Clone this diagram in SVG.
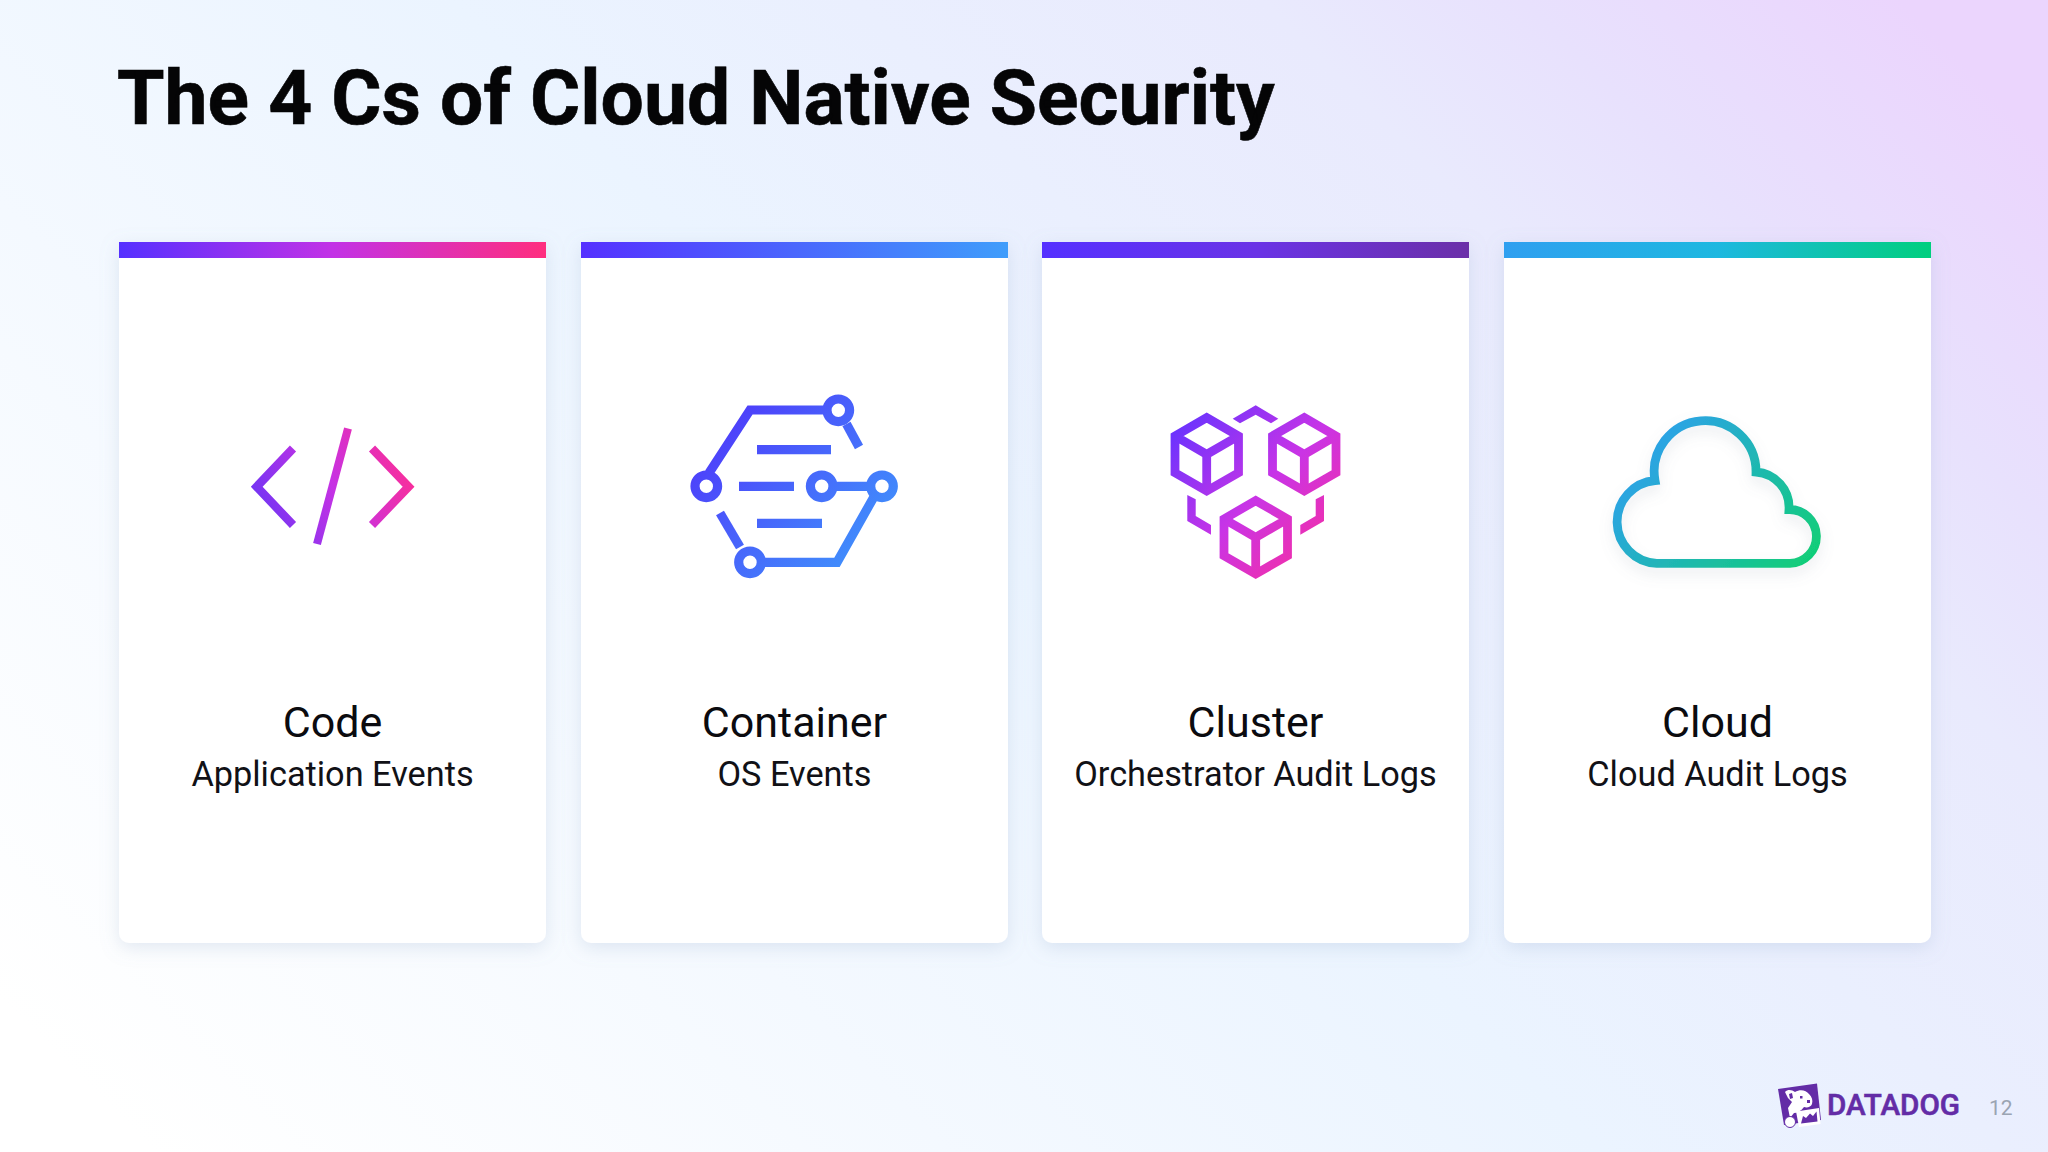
<svg xmlns="http://www.w3.org/2000/svg" width="2048" height="1152" viewBox="0 0 2048 1152">
<defs>
<linearGradient id="bg" gradientUnits="userSpaceOnUse" x1="300" y1="1300" x2="1750" y2="-150"><stop offset="0" stop-color="#ffffff"/><stop offset="0.5" stop-color="#ebf4ff"/><stop offset="0.78" stop-color="#e9eafd"/><stop offset="0.87" stop-color="#e8e1fd"/><stop offset="1" stop-color="#ebd5fd"/></linearGradient>
<linearGradient id="b1"><stop offset="0" stop-color="#5530ff"/><stop offset="0.5" stop-color="#c232e6"/><stop offset="1" stop-color="#ff2e7e"/></linearGradient>
<linearGradient id="b2"><stop offset="0" stop-color="#5530ff"/><stop offset="1" stop-color="#3f9dfb"/></linearGradient>
<linearGradient id="b3"><stop offset="0" stop-color="#5530ff"/><stop offset="0.5" stop-color="#6a33e6"/><stop offset="1" stop-color="#6b30a8"/></linearGradient>
<linearGradient id="b4"><stop offset="0" stop-color="#2f9ff0"/><stop offset="0.5" stop-color="#1db8e0"/><stop offset="1" stop-color="#00cf7e"/></linearGradient>
<linearGradient id="i1" gradientUnits="userSpaceOnUse" x1="255" y1="520" x2="410" y2="450"><stop offset="0" stop-color="#6b35f5"/><stop offset="0.5" stop-color="#c632e4"/><stop offset="1" stop-color="#ff2e92"/></linearGradient>
<linearGradient id="i2" gradientUnits="userSpaceOnUse" x1="700" y1="400" x2="890" y2="570"><stop offset="0" stop-color="#5030fa"/><stop offset="1" stop-color="#3e9cfc"/></linearGradient>
<linearGradient id="i3" gradientUnits="userSpaceOnUse" x1="1175" y1="420" x2="1335" y2="575"><stop offset="0" stop-color="#6633ff"/><stop offset="0.5" stop-color="#c934e6"/><stop offset="1" stop-color="#ff2e96"/></linearGradient>
<linearGradient id="i4" gradientUnits="userSpaceOnUse" x1="1640" y1="430" x2="1810" y2="570"><stop offset="0" stop-color="#2f9ff0"/><stop offset="1" stop-color="#10cf75"/></linearGradient>
<filter id="sh" x="-15%" y="-10%" width="130%" height="120%"><feDropShadow dx="0" dy="5" stdDeviation="9" flood-color="#8fa8c8" flood-opacity="0.25"/></filter>
<filter id="csh" x="-20%" y="-20%" width="140%" height="150%"><feDropShadow dx="0" dy="7" stdDeviation="7" flood-color="#8090a0" flood-opacity="0.16"/></filter>
</defs>
<style>
text{font-family:Roboto,"Liberation Sans",sans-serif}
.t{font-size:43px;fill:#0b0b0f;text-anchor:middle}
.s{font-size:34.300px;fill:#111116;text-anchor:middle}
.card{fill:#fff;filter:url(#sh)}
</style>
<rect width="2048" height="1152" fill="url(#bg)"/>
<text x="117" y="124" font-size="76.800" font-weight="700" fill="#050506" stroke="#050506" stroke-width="0.6">The 4 Cs of Cloud Native Security</text>

<g id="card-code">
<path class="card" d="M119 242H546V933a10 10 0 0 1-10 10H129a10 10 0 0 1-10-10Z"/>
<rect x="119" y="242" width="427" height="16" fill="url(#b1)"/>
<g fill="none" stroke="url(#i1)" stroke-width="8.500">
<path d="M293 448.500L256.700 486.700L293 525"/><path d="M372 448.500L408.600 486.700L372 525"/><path stroke-width="8" d="M348 428.500L317 544"/>
</g>
<text class="t" x="332.500" y="737">Code</text>
<text class="s" x="332.500" y="786">Application Events</text>
</g>

<g id="card-container">
<path class="card" d="M581 242H1008V933a10 10 0 0 1-10 10H591a10 10 0 0 1-10-10Z"/>
<rect x="581" y="242" width="427" height="16" fill="url(#b2)"/>
<g fill="none" stroke="url(#i2)" stroke-width="9.200">
<path d="M709 473L750 410H827"/><path d="M846.500 424L859 447"/>
<path d="M720 513L740 547"/><path d="M763 562.300H837L875 495"/>
<path d="M757 449.700H831"/><path d="M739 486.300H794"/><path d="M757 523.300H822"/><path d="M835 486.300H868"/>
<circle cx="838.300" cy="410.300" r="11.300"/><circle cx="706.300" cy="486.300" r="11.300"/><circle cx="821.700" cy="486.300" r="11.300"/><circle cx="882" cy="486.300" r="11.300"/><circle cx="750" cy="562.300" r="11.300"/>
</g>
<text class="t" x="794.500" y="737">Container</text>
<text class="s" x="794.500" y="786">OS Events</text>
</g>

<g id="card-cluster">
<path class="card" d="M1042 242H1469V933a10 10 0 0 1-10 10H1052a10 10 0 0 1-10-10Z"/>
<rect x="1042" y="242" width="427" height="16" fill="url(#b3)"/>
<g fill="none" stroke="url(#i3)" stroke-width="8.800">
<path d="M1206.700 417.600L1238.500 436V472.700L1206.700 491L1175 472.700V436ZM1175 436L1206.700 454.300L1238.500 436M1206.700 454.300V491"/>
<path d="M1304.300 417.600L1336 436V472.700L1304.300 491L1272.500 472.700V436ZM1272.500 436L1304.300 454.300L1336 436M1304.300 454.300V491"/>
<path d="M1255.700 500.600L1287.500 519V555.700L1255.700 574L1224 555.700V519ZM1224 519L1255.700 537.300L1287.500 519M1255.700 537.300V574"/>
</g>
<path fill="url(#i3)" d="M1232.700 418.700L1255.700 405.300L1278.300 418.700L1271 423.300L1255.700 414.700L1240 423.300ZM1187.300 495L1195.700 499.300V516L1211 525V534.700L1187.300 521ZM1324 495L1315.700 499.300V516L1300.300 525V534.700L1324 521Z"/>
<text class="t" x="1255.500" y="737">Cluster</text>
<text class="s" x="1255.500" y="786">Orchestrator Audit Logs</text>
</g>

<g id="card-cloud">
<path class="card" d="M1504 242H1931V933a10 10 0 0 1-10 10H1514a10 10 0 0 1-10-10Z"/>
<rect x="1504" y="242" width="427" height="16" fill="url(#b4)"/>
<path fill="none" stroke="url(#i4)" stroke-width="8.800" filter="url(#csh)" d="M1656.700 563.300H1790A25.800 25.800 0 0 0 1789 509.500A35.500 35.500 0 0 0 1756 472A50.900 50.900 0 1 0 1655 480.500A41.500 41.500 0 0 0 1656.700 563.300Z"/>
<text class="t" x="1717.500" y="737">Cloud</text>
<text class="s" x="1717.500" y="786">Cloud Audit Logs</text>
</g>

<g id="logo">
<path fill="#632ca6" d="M1778 1089L1817 1083.500L1821 1120L1784 1125Z"/>
<path fill="#fff" d="M1785 1092C1788 1089 1792 1090 1795 1092C1800 1089 1806 1090 1809 1094C1812 1097 1813 1100 1812 1104C1811 1107 1807 1108 1804 1107C1801 1111 1797 1113 1794 1113L1790 1118L1788 1108L1792 1102L1788 1098Z"/>
<path fill="#632ca6" d="M1789 1094L1792 1093L1793 1098L1790 1099ZM1800 1096h2.500v2.500h-2.500ZM1807 1100h3v3h-3Z"/>
<path fill="#fff" d="M1796 1111.500L1819 1108L1820.500 1124L1799 1127Z"/>
<path fill="#632ca6" d="M1801 1123.500L1803 1116L1806 1118L1810 1113.500L1813 1116L1816.500 1111.500L1817.500 1121.500Z"/>
<circle cx="1790" cy="1122" r="5.500" fill="#fff" stroke="#632ca6" stroke-width="1"/>
<text x="1827" y="1115" font-size="30" font-weight="500" fill="#632ca6" stroke="#632ca6" stroke-width="0.6" textLength="133" lengthAdjust="spacingAndGlyphs">DATADOG</text>
<text x="1989" y="1115" font-size="21" fill="#9aa4b2">12</text>
</g>
</svg>
